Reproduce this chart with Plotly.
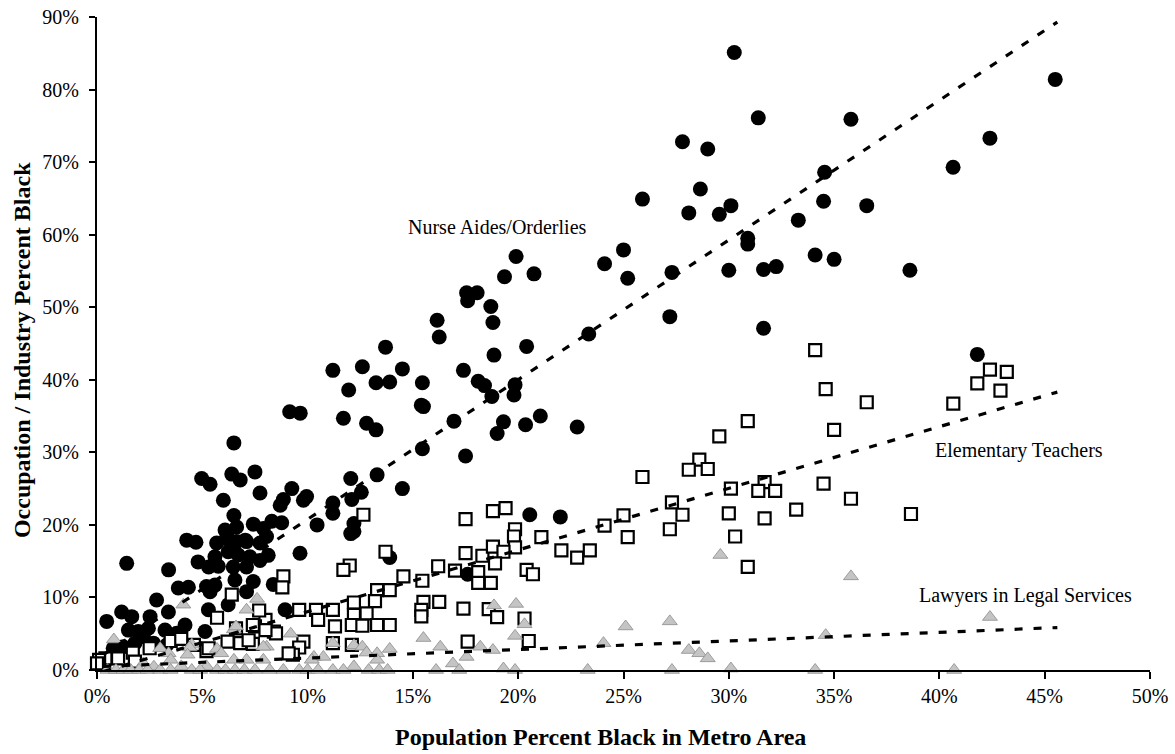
import plotly.graph_objects as go

# ---------------- data (percent units) ----------------
nurse_x = [30.26, 45.5, 31.4, 35.8, 27.8, 29.0, 42.4, 40.65, 34.55, 28.65, 25.9, 30.1, 34.5, 36.55, 28.1, 29.55, 33.3, 30.9, 30.9, 25.0,
           24.1, 25.2, 27.3, 30.0, 31.65, 32.25, 34.1, 35.0, 38.6, 27.2, 31.65, 23.35, 41.8,
           19.9, 19.35, 20.75, 17.55, 18.05, 17.6, 18.7, 16.15, 18.8, 16.25, 18.85, 20.4, 13.7, 11.2, 12.6, 14.5, 17.4, 13.25, 13.9,
           15.45, 18.1, 18.4, 19.85, 11.95, 18.75, 19.8, 15.4, 15.5, 9.15, 9.65, 11.7, 21.05, 16.95, 12.8, 13.25, 19.3, 20.35, 19.0,
           22.8, 6.5, 15.45, 17.5,
           4.97, 5.37, 6.4, 6.8, 7.5, 7.74, 9.25, 9.8, 9.95, 8.85, 8.7, 6.0, 6.5, 7.42, 8.3, 8.77, 6.08, 6.63, 11.2, 11.2, 12.55,
           12.1, 12.05, 13.3, 14.5, 12.2, 12.05, 10.45, 12.2, 7.9, 8.05, 7.74, 7.04, 6.16, 4.26, 4.7, 5.68, 6.16, 6.63, 7.1, 9.64,
           13.9, 20.55, 22.0, 17.6, 8.37, 8.93,
           1.41, 4.8, 5.3, 5.6, 5.76, 6.23, 6.71, 7.26, 7.74, 8.13, 6.47, 7.1, 3.4, 3.86, 4.34, 5.2, 5.6, 5.37, 6.55, 7.42, 7.1,
           2.83, 3.39, 5.29, 6.23, 1.17, 1.65, 0.46, 2.52, 1.49, 1.96, 2.44, 3.23, 3.78, 4.18, 5.13, 2.68, 3.31, 1.8, 2.2, 1.25, 0.77]
nurse_y = [85.1, 81.4, 76.1, 75.9, 72.8, 71.8, 73.3, 69.3, 68.6, 66.3, 64.9, 64.0, 64.6, 64.0, 63.0, 62.8, 62.0, 59.5, 58.7, 57.9,
           56.0, 54.0, 54.8, 55.1, 55.2, 55.6, 57.2, 56.6, 55.1, 48.7, 47.1, 46.3, 43.5,
           57.0, 54.2, 54.6, 52.0, 52.0, 50.9, 50.1, 48.2, 47.9, 45.9, 43.4, 44.6, 44.5, 41.3, 41.8, 41.5, 41.3, 39.6, 39.7,
           39.6, 39.8, 39.2, 39.3, 38.6, 37.7, 37.9, 36.5, 36.3, 35.6, 35.4, 34.7, 35.0, 34.3, 34.0, 33.1, 34.2, 33.8, 32.6,
           33.5, 31.3, 30.5, 29.5,
           26.4, 25.6, 27.0, 26.2, 27.3, 24.4, 25.0, 23.4, 23.9, 23.5, 22.7, 23.4, 21.3, 20.1, 20.5, 20.3, 19.3, 19.7, 23.0, 21.6, 24.5,
           23.5, 26.4, 26.9, 25.0, 20.2, 18.8, 20.0, 19.1, 19.5, 18.4, 17.5, 17.9, 18.8, 17.9, 17.6, 17.5, 18.1, 17.7, 17.7, 16.1,
           15.5, 21.4, 21.1, 13.2, 11.8, 8.3,
           14.7, 14.9, 14.2, 15.6, 14.3, 16.3, 15.85, 15.6, 15.1, 15.8, 14.2, 14.2, 13.8, 11.3, 11.4, 11.5, 11.7, 10.8, 12.4, 12.2, 10.8,
           9.65, 8.0, 8.3, 9.0, 8.0, 7.35, 6.7, 7.35, 5.5, 5.3, 5.75, 5.5, 5.05, 6.2, 5.3, 3.7, 3.45, 3.7, 4.6, 3.2, 3.0]

teacher_x = [34.1, 42.4, 43.2, 41.8, 42.9, 34.6, 36.55, 40.66, 30.9, 35.0, 29.55, 28.6, 28.1, 29.0, 25.9, 34.5, 30.1, 31.7, 31.4,
             32.2, 35.8, 33.2, 27.3, 27.8, 30.0, 31.7, 38.65, 25.0, 27.2, 24.1, 25.2, 30.3, 30.9,
             17.5, 18.8, 19.4, 19.85, 19.8, 19.85, 21.1, 17.5, 18.3, 18.8, 19.3, 18.9, 22.05, 22.8, 23.4, 16.2, 17.0, 18.1, 18.1,
             18.7, 20.4, 20.7, 14.55, 15.45, 15.5, 16.25, 15.4, 15.4, 17.4, 18.6, 19.0, 20.3, 17.6, 20.5,
             12.65, 13.7, 12.0, 11.7, 8.85, 8.8, 13.3, 13.9, 13.2, 12.2, 11.2, 12.8, 12.2, 10.4, 10.5, 9.6, 11.3, 12.1, 12.6, 13.3,
             13.9, 8.4, 8.0, 7.7, 9.8, 9.6, 9.3, 11.2, 12.1, 8.5, 7.5,
             6.4, 5.7, 6.6, 7.4, 8.0, 6.2, 6.8, 7.4, 3.5, 4.0, 4.6, 2.5, 1.7, 1.0, 0.4, 0.1, 0.0, 5.2, 5.3, 1.8, 7.2, 9.1]
teacher_y = [44.1, 41.4, 41.1, 39.5, 38.5, 38.7, 36.9, 36.7, 34.3, 33.1, 32.2, 29.0, 27.6, 27.7, 26.6, 25.7, 25.0, 25.9, 24.7,
             24.7, 23.6, 22.1, 23.1, 21.4, 21.6, 20.9, 21.5, 21.3, 19.4, 19.9, 18.3, 18.4, 14.2,
             20.8, 21.9, 22.3, 19.4, 18.4, 16.9, 18.3, 16.1, 15.75, 17.0, 16.3, 14.7, 16.5, 15.5, 16.5, 14.3, 13.7, 13.5, 12.0,
             12.0, 13.8, 13.2, 12.9, 12.3, 9.4, 9.4, 8.3, 7.4, 8.45, 8.4, 7.3, 7.1, 3.9, 4.0,
             21.4, 16.3, 14.4, 13.8, 12.9, 11.4, 11.0, 11.0, 9.5, 9.3, 8.3, 7.8, 7.6, 8.3, 6.9, 8.3, 6.0, 6.2, 6.1, 6.2,
             6.2, 5.3, 6.9, 8.2, 3.9, 3.1, 2.1, 3.7, 3.45, 5.05, 6.0,
             10.4, 7.2, 5.75, 6.2, 5.5, 3.9, 3.7, 3.6, 4.0, 4.3, 3.45, 3.0, 2.4, 1.6, 1.6, 1.4, 0.9, 2.6, 3.0, 1.15, 4.1, 2.3]

lawyer_x = [29.6, 35.8, 42.4, 4.1, 7.6, 7.1, 18.85, 19.9, 20.3, 19.85, 25.1, 27.2, 24.05, 34.6, 28.1, 28.6, 29.0, 16.3, 17.55,
            18.2, 18.8, 15.5, 9.2, 6.5, 6.6, 0.8, 13.9, 12.2, 11.2, 12.6, 12.8, 13.3, 13.3, 10.3, 10.75, 10.2, 8.06, 7.9, 7.9,
            6.5, 7.1, 5.7, 5.9, 4.5, 4.4, 4.3, 3.0, 3.4, 3.5, 2.2, 2.7, 4.0, 5.2, 12.2, 16.9, 19.3, 30.1,
            0.5, 0.9, 1.25, 1.6, 2.0, 2.4, 3.0, 3.5, 4.5, 4.9, 5.7, 6.1, 6.55, 7.0, 7.5, 8.2, 8.85, 9.6, 10.0, 10.5, 11.2,
            11.7, 12.9, 13.4, 13.8, 16.1, 17.2, 19.85, 23.3, 27.3, 34.1, 40.7]
lawyer_y = [15.85, 12.9, 7.3, 9.0, 9.8, 8.3, 8.9, 9.1, 6.3, 4.7, 6.0, 6.7, 3.7, 4.8, 2.75, 2.3, 1.6, 3.2, 1.8,
            3.2, 2.75, 4.4, 5.0, 5.6, 6.0, 4.2, 2.9, 3.4, 3.7, 3.2, 2.4, 2.3, 1.4, 1.8, 1.8, 1.4, 3.2, 3.2, 1.4,
            1.4, 1.4, 2.9, 2.3, 3.5, 3.1, 2.1, 3.0, 2.3, 1.4, 0.9, 0.45, 0.5, 0.5, 0.5, 0.9, 0.2, 0.2,
            0, 0, 0, 0, 0, 0, 0, 0, 0, 0, 0, 0, 0, 0, 0, 0, 0, 0, 0, 0, 0,
            0, 0, 0, 0, 0, 0, 0, 0, 0, 0, 0]

# trend lines: [x_start, x_end], [y_start, y_end]
nurse_trend_x = [0.3, 45.6]
nurse_trend_y = [2.1, 89.3]
teacher_trend_x = [0.3, 45.6]
teacher_trend_y = [-0.2, 38.3]
lawyer_trend_x = [0.3, 45.6]
lawyer_trend_y = [0.5, 5.85]

x_ticks = [0, 5, 10, 15, 20, 25, 30, 35, 40, 45, 50]
y_ticks = [0, 10, 20, 30, 40, 50, 60, 70, 80, 90]

series_labels = ["Nurse Aides/Orderlies", "Elementary Teachers", "Lawyers in Legal Services"]
label_x = [19.0, 43.8, 44.1]
label_y = [61.0, 30.2, 10.2]

x_title = "Population Percent Black in Metro Area"
y_title = "Occupation / Industry Percent Black"

FONT = "Liberation Serif"

fig = go.Figure()

fig.add_trace(go.Scatter(x=nurse_x, y=nurse_y, mode="markers", cliponaxis=False,
                         marker=dict(symbol="circle", size=15, color="black", line=dict(width=0)),
                         name=series_labels[0], showlegend=False))
fig.add_trace(go.Scatter(x=teacher_x, y=teacher_y, mode="markers", cliponaxis=False,
                         marker=dict(symbol="square", size=12, color="white", line=dict(width=2.2, color="black")),
                         name=series_labels[1], showlegend=False))
fig.add_trace(go.Scatter(x=lawyer_x, y=lawyer_y, mode="markers", cliponaxis=False,
                         marker=dict(symbol="triangle-up", size=13, color="#c4c4c4", line=dict(width=0.8, color="#8c8c8c")),
                         name=series_labels[2], showlegend=False))

for tx, ty in [(nurse_trend_x, nurse_trend_y), (teacher_trend_x, teacher_trend_y), (lawyer_trend_x, lawyer_trend_y)]:
    fig.add_trace(go.Scatter(x=tx, y=ty, mode="lines", cliponaxis=False,
                             line=dict(color="black", width=3.2, dash="8px,11px"), showlegend=False))

for t, lx, ly in zip(series_labels, label_x, label_y):
    fig.add_annotation(x=lx, y=ly, text=t, showarrow=False, xanchor="center", yanchor="middle",
                       font=dict(family=FONT, size=20, color="black"))

# axis titles
fig.add_annotation(xref="paper", yref="paper", x=0.478, y=-0.1026, text=f"<b>{x_title}</b>", showarrow=False,
                   xanchor="center", yanchor="middle", font=dict(family=FONT, size=24, color="black"))
fig.add_annotation(xref="paper", yref="paper", x=-0.0712, y=0.49, text=f"<b>{y_title}</b>", showarrow=False,
                   textangle=-90, xanchor="center", yanchor="middle", font=dict(family=FONT, size=24, color="black"))

fig.update_layout(
    width=1175, height=754,
    margin=dict(l=97, r=25, t=17, b=84, autoexpand=False),
    paper_bgcolor="white", plot_bgcolor="white",
    font=dict(family=FONT, size=20, color="black"),
    hovermode=False,
    xaxis=dict(range=[0, 50], tickvals=x_ticks, ticktext=[f"{v}%" for v in x_ticks],
               showgrid=False, zeroline=False, showline=True, linecolor="black", linewidth=2,
               ticks="outside", ticklen=7, tickwidth=2, tickcolor="black", automargin=False,
               ticklabeloverflow="allow", tickfont=dict(family=FONT, size=20)),
    yaxis=dict(range=[0, 90], tickvals=y_ticks, ticktext=[f"{v}%" for v in y_ticks],
               showgrid=False, zeroline=False, showline=True, linecolor="black", linewidth=2,
               ticks="outside", ticklen=6, tickwidth=2, tickcolor="black", automargin=False,
               ticklabeloverflow="allow", ticklabelstandoff=6, tickfont=dict(family=FONT, size=20)),
)

# remove the default page margin so the figure sits exactly in the 1175x754 window
fig.write_html("out.html", config={"displayModeBar": False},
               post_script="document.body.style.margin='0';document.body.style.overflow='hidden';")
